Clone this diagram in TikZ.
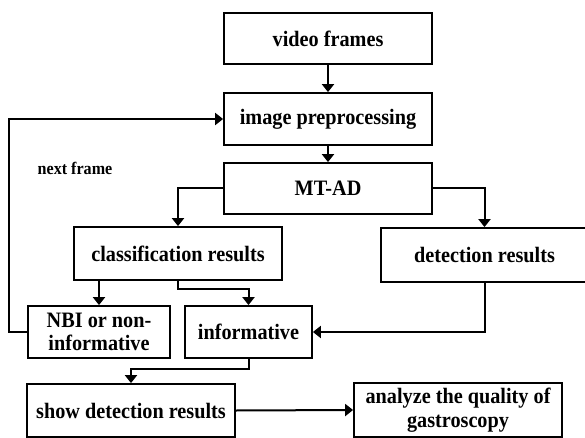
\documentclass[tikz,border=0pt]{standalone}
\usepackage{fontspec}
\setmainfont{Liberation Serif}[FakeStretch=0.92]
\usetikzlibrary{arrows.meta}
\begin{document}
\begin{tikzpicture}[x=1pt,y=-1pt,
  box/.style={draw, line width=1.8pt, inner sep=0pt, align=center,
    font=\fontsize{22}{23.5}\selectfont\bfseries},
  conn/.style={line width=2pt, -{Triangle[length=8pt,width=12pt]}},
  lbl/.style={font=\fontsize{17.5}{19}\selectfont\bfseries, inner sep=0pt}]
\useasboundingbox (0,0) rectangle (585,438);
\node[box, minimum width=208pt, minimum height=51pt] (vf) at (328,38.5) {video frames};
\node[box, minimum width=208pt, minimum height=52pt] (ip) at (328,119) {image preprocessing};
\node[box, minimum width=208pt, minimum height=51pt] (mt) at (328,188.5) {MT-AD};
\node[box, minimum width=208pt, minimum height=53pt] (cr) at (178,253.5) {classification results};
\node[box, minimum width=207pt, minimum height=54pt] (dr) at (484.5,255) {detection results};
\node[box, minimum width=142pt, minimum height=52pt] (nbi) at (99,332) {NBI or non-\\informative};
\node[box, minimum width=127pt, minimum height=52pt] (inf) at (248.5,332) {informative};
\node[box, minimum width=208pt, minimum height=53pt] (sd) at (131,410.5) {show detection results};
\node[box, minimum width=208pt, minimum height=54pt] (an) at (458,410) {analyze the quality of\\gastroscopy};
\node[lbl] (nf) at (75,168) {next frame};

\draw[conn] (vf.south) -- (ip.north);
\draw[conn] (ip.south) -- (mt.north);
\draw[conn] (mt.west) -| (cr.north);
\draw[conn] (mt.east) -| (dr.north);
\draw[conn] (cr.south -| nbi.north) -- (nbi.north);
\draw[conn] (cr.south) -- ++(0,8) -| (inf.north);
\draw[conn] (dr.south) |- (inf.east);
\draw[conn] (nbi.west) -- ++(-18,0) |- (ip.west);
\draw[conn] (inf.south) -- ++(0,10) -| (sd.north);
\draw[conn] (sd.east) -- (an.west);
\end{tikzpicture}
\end{document}
